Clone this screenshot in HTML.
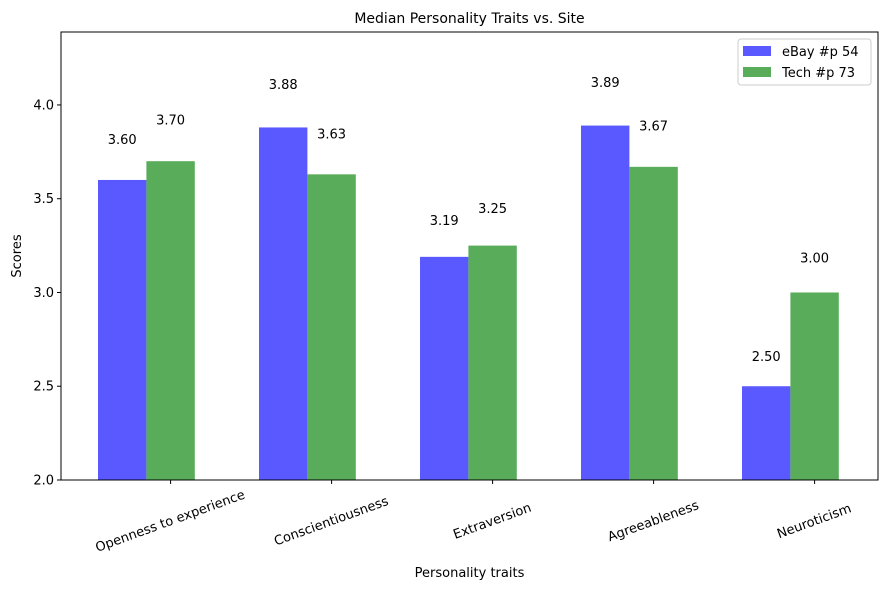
<!DOCTYPE html>
<html><head><meta charset="utf-8"><style>
body{margin:0;background:#fff}
svg text{font-family:"DejaVu Sans","Liberation Sans",sans-serif;fill:#000}
</style></head><body>
<svg width="889" height="590">
<g id="plot"></g>
</svg>
<script>
const categories=["Openness to experience","Conscientiousness","Extraversion","Agreeableness","Neuroticism"];
const ebayValues=[3.60,3.88,3.19,3.89,2.50];
const techValues=[3.70,3.63,3.25,3.67,3.00];
const yTicks=[2.0,2.5,3.0,3.5,4.0];
const seriesNames=["eBay #p 54","Tech #p 73"];

const L=61,R=878,T=32,B=480,yMin=2,yMax=4.389;
const bw=48.4,gap=161,x0=98;
const ys=v=>B-(v-yMin)/(yMax-yMin)*(B-T);
const xs=i=>x0+gap*i;
const NS="http://www.w3.org/2000/svg";
const g=document.getElementById('plot');
function mk(tag,attrs,txt){const e=document.createElementNS(NS,tag);for(const k in attrs)e.setAttribute(k,attrs[k]);if(txt!==undefined)e.textContent=txt;g.appendChild(e);return e;}

const title=mk('text',{x:(L+R)/2,y:23,'text-anchor':'middle','font-size':14},'Median Personality Traits vs. Site');



[[ebayValues,'#5959ff',0],[techValues,'#59ac59',1]].forEach(([vals,col,k])=>{
  vals.forEach((v,i)=>{
    const x=xs(i)+k*bw;
    const r=mk('rect',{x:x,y:ys(v),width:bw,height:B-ys(v),fill:col});
    
    
    const t=mk('text',{x:x+bw/2,y:ys(v*1.05)-2,'text-anchor':'middle','font-size':13},v.toFixed(2));
    
    
  });
});

yTicks.forEach(v=>{
  const y=ys(v);
  mk('line',{x1:L-4,x2:L,y1:y,y2:y,stroke:'#000'});
  const t=mk('text',{x:L-7,y:y+4.5,'text-anchor':'end','font-size':13},v.toFixed(1));
  
  
});

categories.forEach((c,i)=>{
  const x=xs(i)+bw*1.5;
  mk('line',{x1:x,x2:x,y1:B,y2:B+4,stroke:'#000'});
  const t=mk('text',{x:0,y:0,'text-anchor':'middle','font-size':13,transform:`translate(${x+1},${B+45}) rotate(-20)`},c);
  
  
});

const frame=mk('rect',{x:L,y:T,width:R-L,height:B-T,fill:'none',stroke:'#000','stroke-width':1});



const xl=mk('text',{x:(L+R)/2,y:577,'text-anchor':'middle','font-size':13},'Personality traits');


const yl=mk('text',{x:0,y:0,'text-anchor':'middle','font-size':13,transform:`translate(21,${(T+B)/2}) rotate(-90)`},'Scores');



const lg=mk('rect',{x:738,y:39,width:133,height:46,rx:3,fill:'#fff',stroke:'#ccc'});


['#5959ff','#59ac59'].forEach((col,k)=>{
  const p=mk('rect',{x:743,y:46+k*21,width:28,height:10,fill:col});
  
  
  const t=mk('text',{x:782,y:56+k*21,'font-size':13},seriesNames[k]);
  
  
});
</script>
</body></html>
